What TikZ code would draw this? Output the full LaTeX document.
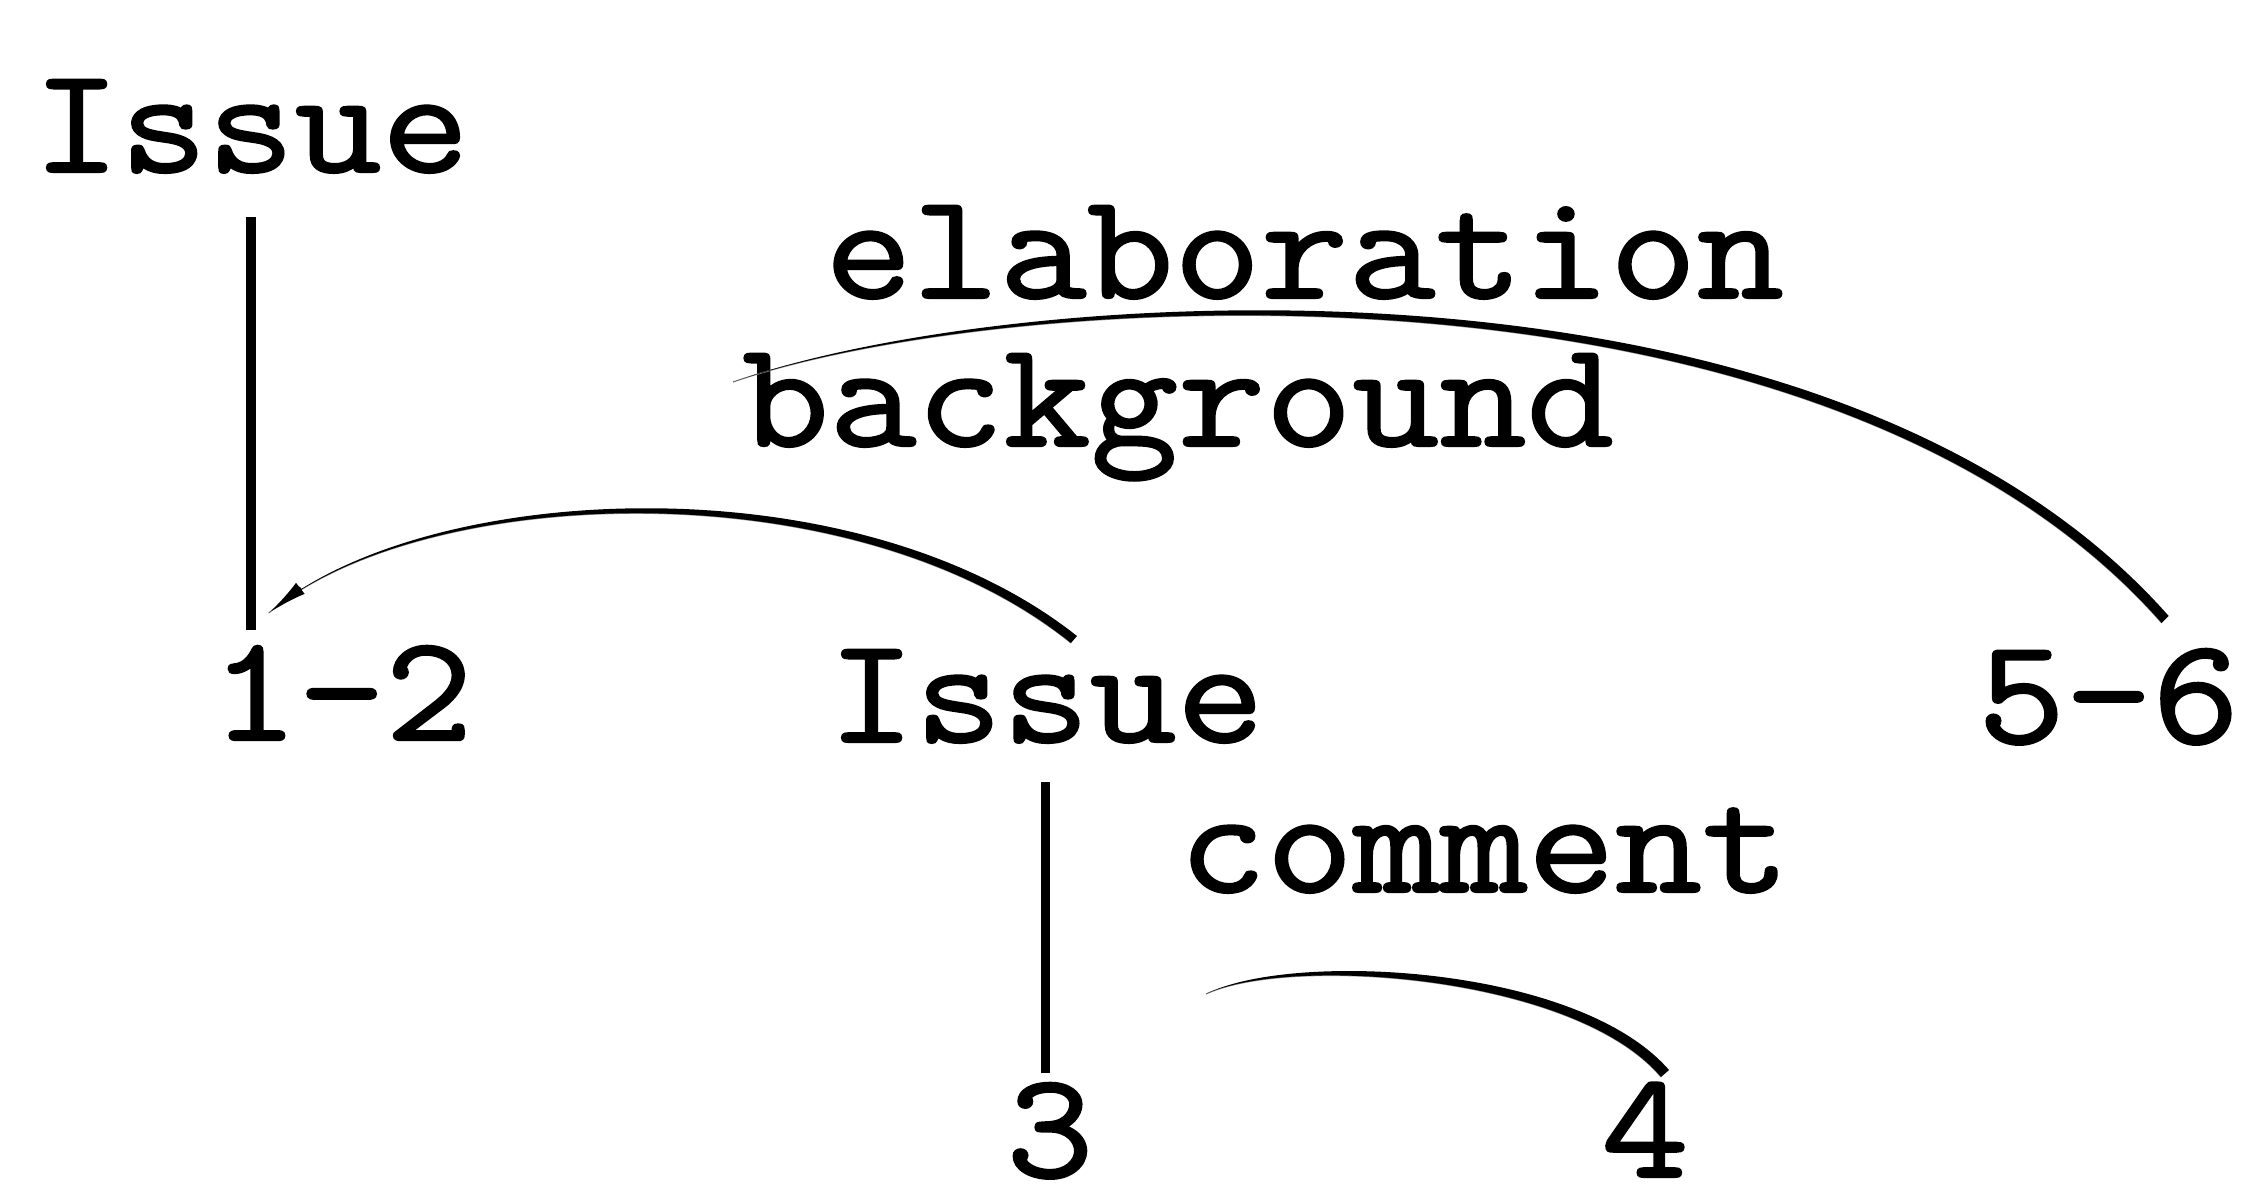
\documentclass[tikz,border=0pt]{standalone}
\usepackage{fontspec}
\newfontfamily\diagfont{Latin Modern Mono}[FakeStretch=1.12,FakeBold=1.5]
\usetikzlibrary{arrows.meta}
\begin{document}
\begin{tikzpicture}[x=0.01cm,y=-0.01cm,
  lbl/.style={font=\diagfont\fontsize{42.98}{52}\selectfont, inner sep=0pt, outer sep=0pt, anchor=base west},
  vline/.style={line width=0.09cm},
  faint/.style={line width=0.012cm, black!45},
  taper/.style={fill=black},
  tip/.style={line width=0.035cm, -{Latex[length=0.4cm,width=0.14cm]}}]
\useasboundingbox (0,0) rectangle (2246,1188);
\fill[white] (0,0) rectangle (2246,1188);

% labels
\node[lbl] (iss1) at (33,172) {Issue};
\node[lbl] (elab) at (825,298) {elaboration};
\node[lbl] (bgr) at (742,446) {background};
\node[lbl] (n12) at (211,740) {1-2};
\node[lbl] (iss2) at (828,742) {Issue};
\node[lbl] (n56) at (1978,743) {5-6};
\node[lbl] (cmt) at (1179,892) {comment};
\node[lbl,anchor=base] (n3) at (1050,1177) {3};
\node[lbl,anchor=base] (n4) at (1645,1177) {4};

% vertical span lines
\coordinate (v1b) at (iss1.base |- n12.base);
\draw[vline, line width=0.105cm] ([shift={(0,45)}]iss1.base) -- ([shift={(0,-110)}]v1b);
\coordinate (v2b) at (iss2.base |- n3.base);
\draw[vline] ([shift={(0,40)}]iss2.base) -- ([shift={(0,-104)}]v2b);

% arc end points
\coordinate (bgS) at ([shift={(-73,-127)}]n12.base);
\coordinate (bgE) at ([shift={(25,-99)}]iss2.base);
\coordinate (elS) at (733,382);
\coordinate (elE) at ([shift={(53,-120)}]n56.base);
\coordinate (cmS) at (1206,994);
\coordinate (cmE) at ([shift={(16,-100)}]n4.base);

% background arc
\draw[faint] (bgS) .. controls (420,485) and (850,465) .. (bgE);
\fill[taper] (bgS) .. controls (420,485) and (850,465) .. (bgE) -- ([shift={(6,-7)}]bgE) .. controls (851,457) and (420,482) .. (bgS) -- cycle;
\draw[tip] ([shift={(32,-25)}]bgS) -- (bgS);

% elaboration arc
\draw[faint] (elS) .. controls (1000,290) and (1820,235) .. (elE);
\fill[taper] (elS) .. controls (1000,290) and (1820,235) .. (elE) -- ([shift={(7,-7)}]elE) .. controls (1823,225) and (1000,286) .. (elS) -- cycle;

% comment arc
\draw[faint] (cmS) .. controls (1290,955) and (1575,975) .. (cmE);
\fill[taper] (cmS) .. controls (1290,955) and (1575,975) .. (cmE) -- ([shift={(8,-7)}]cmE) .. controls (1577,964) and (1290,951) .. (cmS) -- cycle;
\end{tikzpicture}
\end{document}
